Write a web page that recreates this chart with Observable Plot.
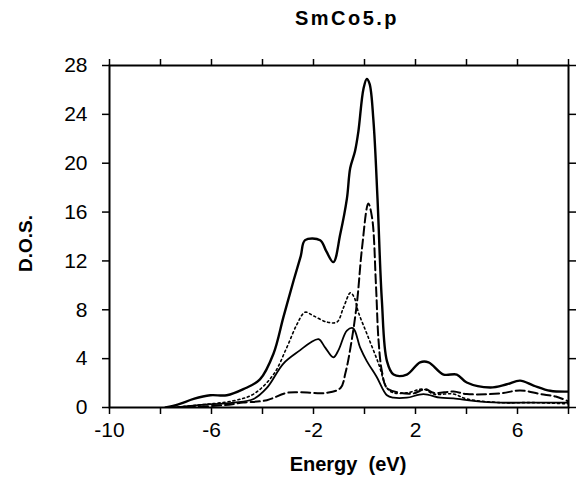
<!DOCTYPE html>
<html><head><meta charset="utf-8">
<script src="https://cdn.jsdelivr.net/npm/d3@7"></script>
<script src="https://cdn.jsdelivr.net/npm/@observablehq/plot@0.6"></script>
<style>
body{margin:0;background:#fff;font-family:"Liberation Sans",Arial,sans-serif;}
#title{height:40px;width:576px;box-sizing:border-box;padding-left:118px;text-align:center;font-weight:bold;font-size:20px;letter-spacing:2.5px;line-height:36px;color:#000;}
#chart svg{display:block;}
#chart svg g[aria-label$="tick label"]{font-size:21px;}
</style></head><body>
<div id="title">SmCo5.p</div>
<div id="chart"></div>
<script>
// Total DOS (thick solid)
const totalE = [-7.8,-7.3,-6.7,-6.05,-5.4,-4.75,-4.1,-3.57,-3.18,-2.78,-2.5,-2.33,-1.74,-1.5,-1.22,-0.95,-0.69,-0.56,-0.37,-0.24,-0.04,0.09,0.2,0.35,0.51,0.68,0.88,1.14,1.66,2.18,2.51,3.1,3.62,4.01,4.93,5.58,6.1,6.63,7.28,8.0];
const totalD = [0,0.25,0.7,1.0,1.0,1.5,2.3,4.4,7.4,10.4,12.4,13.7,13.7,12.8,11.9,14.2,17.1,19.6,21.0,22.6,26.1,26.9,26.5,23.5,17.1,8.8,3.8,2.7,2.7,3.7,3.7,2.7,2.7,2.05,1.64,1.9,2.2,1.8,1.37,1.3];
// Long-dashed partial DOS
const dashE = [-7.0,-5.5,-4.75,-3.83,-3.05,-2.5,-1.5,-0.94,-0.75,-0.55,-0.3,-0.1,0.15,0.3,0.45,0.55,0.68,0.88,1.4,1.92,2.38,2.71,3.49,4.01,5.32,6.1,6.89,7.5,8.0];
const dashD = [0,0.2,0.4,0.6,1.2,1.25,1.2,1.6,2.8,4.9,8.5,13,16.7,15.5,10,5.5,3.0,1.6,1.2,1.15,1.5,1.2,1.3,1.1,1.15,1.4,1.1,0.9,0.5];
// Dotted partial DOS
const dotE = [-7.5,-6.5,-5.14,-4.35,-3.57,-3.05,-2.65,-2.33,-2.0,-1.48,-1.08,-0.82,-0.55,-0.4,-0.24,0.1,0.55,0.88,1.14,1.66,2.31,2.71,3.49,4.01,5.32,6.63,8.0];
const dotD = [0,0.2,0.55,1.1,2.7,4.9,6.8,7.8,7.5,7.0,7.0,8.2,9.4,9.0,7.8,6.0,3.6,1.6,1.2,1.2,1.5,1.1,1.1,0.7,0.4,0.4,0.3];
// Thin solid partial DOS
const thinE = [-7.5,-6.5,-5.14,-4.35,-3.83,-3.18,-2.52,-2.13,-1.8,-1.54,-1.22,-1.02,-0.69,-0.45,-0.17,0.09,0.48,0.88,1.14,1.66,2.31,2.97,3.49,4.27,5.3,6.6,8.0];
const thinD = [0,0.2,0.4,0.7,1.6,3.6,4.7,5.3,5.6,4.9,4.1,4.7,6.3,6.5,4.9,3.8,2.5,1.0,0.8,0.8,1.1,0.8,0.75,0.55,0.4,0.4,0.4];

const xTicks = [-10,-8,-6,-4,-2,0,2,4,6,8];
const xLabels = [-10,-6,-2,2,6];
const yTicks = [0,4,8,12,16,20,24,28];

const chart = Plot.plot({
  width: 576, height: 439,
  marginLeft: 109, marginRight: 8, marginTop: 25, marginBottom: 72,
  x: {domain: [-10, 8]},
  y: {domain: [0, 28]},
  style: {fontFamily: "'Liberation Sans', Arial, sans-serif", fontSize: "19px", color: "black", background: "white", overflow: "visible"},
  marks: [
    Plot.axisX({anchor: "bottom", ticks: xTicks, tickSize: 7, tickPadding: 8, strokeWidth: 1.5, fontSize: 21,
      tickFormat: d => xLabels.includes(d) ? String(d) : "", label: null}),
    Plot.axisX({anchor: "top", ticks: xTicks, tickSize: 7, strokeWidth: 1.5, tickFormat: () => "", label: null}),
    Plot.axisY({anchor: "left", ticks: yTicks, tickSize: 7, tickPadding: 15, strokeWidth: 1.5, fontSize: 21,
      tickFormat: d => String(d), label: null}),
    Plot.axisY({anchor: "right", ticks: yTicks, tickSize: 7, strokeWidth: 1.5, tickFormat: () => "", label: null}),
    Plot.frame({stroke: "black", strokeWidth: 2}),
    Plot.line(dotD, {x: dotE, y: dotD, stroke: "black", strokeWidth: 1.6, strokeDasharray: "2,3", curve: "catmull-rom", clip: true}),
    Plot.line(thinD, {x: thinE, y: thinD, stroke: "black", strokeWidth: 1.8, curve: "catmull-rom", clip: true}),
    Plot.line(dashD, {x: dashE, y: dashD, stroke: "black", strokeWidth: 2, strokeDasharray: "9,4", curve: "catmull-rom", clip: true}),
    Plot.line(totalD, {x: totalE, y: totalD, stroke: "black", strokeWidth: 2.4, curve: "catmull-rom", clip: true}),
    Plot.text(["Energy  (eV)"], {frameAnchor: "bottom", lineAnchor: "middle", textAnchor: "middle", dy: 57, dx: 9, fontWeight: "bold", fontSize: 20, letterSpacing: "1.5px", fill: "black"}),
    Plot.text(["D.O.S."], {frameAnchor: "left", lineAnchor: "middle", textAnchor: "middle", dx: -84, dy: 7, rotate: -90, fontWeight: "bold", fontSize: 19, letterSpacing: "1px", fill: "black"})
  ]
});
document.getElementById("chart").appendChild(chart);
</script>
</body></html>
